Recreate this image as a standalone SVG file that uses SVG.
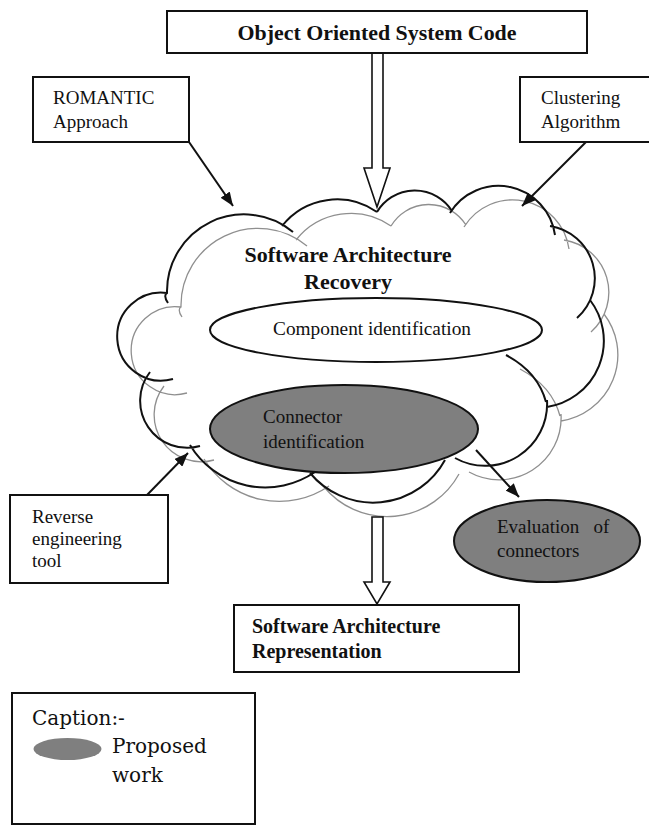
<svg xmlns="http://www.w3.org/2000/svg" width="649" height="825" viewBox="0 0 649 825">
<style>
.box{fill:#fff;stroke:#111;stroke-width:2}
.t{font-family:"Liberation Serif","Times New Roman",serif;font-size:19px;fill:#111}
.b{font-family:"Liberation Serif","Times New Roman",serif;font-weight:bold;fill:#111}
.cap{font-family:"DejaVu Serif",serif;font-size:20px;fill:#111}
.cl{fill:none;stroke:#111;stroke-width:2}
.cg{fill:none;stroke:#8f8f8f;stroke-width:1.3}
.ar{fill:none;stroke:#111;stroke-width:2;marker-end:url(#ah)}
.hol{fill:#fff;stroke:#111;stroke-width:1.6;stroke-linejoin:miter}
.gray{fill:#7f7f7f;stroke:#111;stroke-width:2}
</style>
<defs>
<marker id="ah" viewBox="0 0 10 8" refX="10" refY="4" markerWidth="14" markerHeight="11" markerUnits="userSpaceOnUse" orient="auto">
<path d="M0,0 L10,4 L0,8 z" fill="#111"/>
</marker>
<path id="cloud" d="M168,303 C164,297 165,294 167,293 A77,77 0 0,1 293,232 M282,226 A70,70 0 0,1 377,212 M377,212 A44,44 0 0,1 452,211 M450,213 A57,57 0 0,1 555,235 M550,226 A53,53 0 0,1 577,318 M590,300 A67,67 0 0,1 547,407 M506,355 Q538,372 546,402 M547,400 A62,62 0 0,1 455,458 M445,460 A82,82 0 0,1 310,473 M315,472 A88,88 0 0,1 190,445 M200,446 A47,47 0 0,1 150,372 M173,379 A44,44 0 1,1 167,293"/>
</defs>

<g id="cloud-shape">
<use href="#cloud" class="cg" transform="translate(14,14)"/>
<use href="#cloud" class="cl"/>
</g>

<g id="connectors">
<polygon class="hol" points="372,53 383,53 383,168 390,168 377,207 364,168 372,168"/>
<polygon class="hol" points="372,517 383,517 383,582 390,582 377,604 364,582 372,582"/>
<path class="ar" d="M189,142 L233,206"/>
<path class="ar" d="M586,142 L522,206"/>
<path class="ar" d="M147,495 L188,453"/>
<path class="ar" d="M476,450 L519,497"/>
</g>

<g id="object-code">
<rect class="box" x="167" y="11" width="420" height="42"/>
<text class="b" x="377" y="40" font-size="22" text-anchor="middle" textLength="279" lengthAdjust="spacingAndGlyphs">Object Oriented System Code</text>
</g>

<g id="romantic">
<rect class="box" x="33" y="77" width="156" height="65"/>
<text class="t" x="53" y="104">ROMANTIC</text>
<text class="t" x="53" y="128">Approach</text>
</g>

<g id="clustering">
<rect class="box" x="520" y="77" width="140" height="65"/>
<text class="t" x="541" y="104">Clustering</text>
<text class="t" x="541" y="128">Algorithm</text>
</g>

<g id="sar-title">
<text class="b" x="348" y="262" font-size="22" text-anchor="middle">Software Architecture</text>
<text class="b" x="348" y="289" font-size="22" text-anchor="middle">Recovery</text>
</g>

<g id="component">
<ellipse cx="376" cy="330" rx="166" ry="32" fill="#fff" stroke="#111" stroke-width="2"/>
<text class="t" x="372" y="335" text-anchor="middle" textLength="198" lengthAdjust="spacingAndGlyphs">Component identification</text>
</g>

<g id="connector-id">
<ellipse class="gray" cx="344" cy="429" rx="134" ry="44"/>
<text class="t" x="263" y="423">Connector</text>
<text class="t" x="263" y="448">identification</text>
</g>

<g id="evaluation">
<ellipse class="gray" cx="547" cy="541" rx="93" ry="41"/>
<text class="t" x="497" y="533" xml:space="preserve">Evaluation   of</text>
<text class="t" x="497" y="557">connectors</text>
</g>

<g id="reverse">
<rect class="box" x="10" y="495" width="158" height="88"/>
<text class="t" x="32" y="523">Reverse</text>
<text class="t" x="32" y="545">engineering</text>
<text class="t" x="32" y="567">tool</text>
</g>

<g id="representation">
<rect class="box" x="234" y="605" width="285" height="67"/>
<text class="b" x="252" y="633" font-size="20">Software Architecture</text>
<text class="b" x="252" y="658" font-size="20">Representation</text>
</g>

<g id="caption">
<rect class="box" x="12" y="693" width="243" height="131"/>
<text class="cap" x="32" y="725">Caption:-</text>
<ellipse cx="67.5" cy="749" rx="34" ry="11" fill="#7f7f7f"/>
<text class="cap" x="112" y="753">Proposed</text>
<text class="cap" x="112" y="782">work</text>
</g>
</svg>
